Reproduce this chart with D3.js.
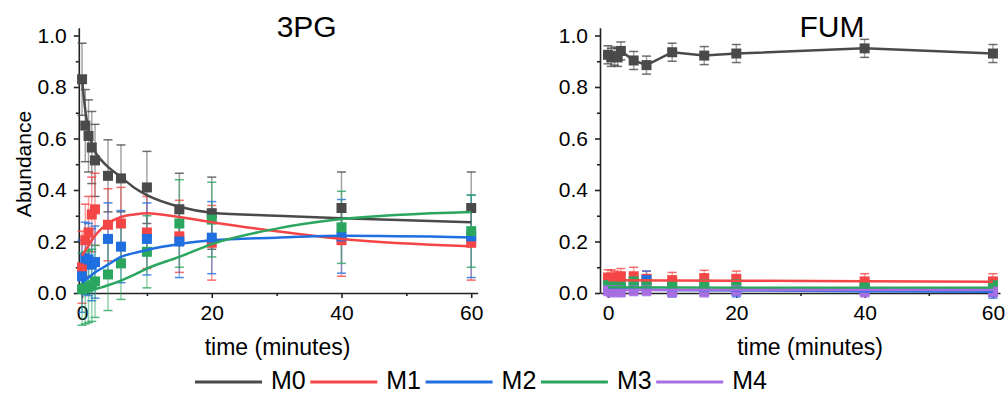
<!DOCTYPE html>
<html><head><meta charset="utf-8">
<script src="https://cdn.jsdelivr.net/npm/d3@7"></script>
<style>body{margin:0;background:#fff}svg{display:block}text{font-family:"Liberation Sans",Arial,sans-serif;fill:#000}</style>
</head><body>
<script>
// ---- data ----
const times = [0, 0.5, 1, 1.5, 2, 4, 6, 10, 15, 20, 40, 60];
const seriesNames = ["M0", "M1", "M2", "M3", "M4"];
const seriesColors = ["#4a4a4a", "#f44646", "#1f6fe0", "#2aa65e", "#a66ee0"];
const xTickValues = [0, 20, 40, 60];
const xMinorTicks = [10, 30, 50];
const yTickValues = [0, 0.2, 0.4, 0.6, 0.8, 1.0];
const yMinorTicks = [0.1, 0.3, 0.5, 0.7, 0.9];

// 3PG measured points
const pgM0 = [0.83, 0.65, 0.61, 0.565, 0.515, 0.455, 0.445, 0.41, 0.325, 0.31, 0.33, 0.33];
const pgM1 = [0.10, 0.205, 0.235, 0.305, 0.325, 0.265, 0.27, 0.235, 0.22, 0.195, 0.205, 0.195];
const pgM2 = [0.065, 0.135, 0.13, 0.11, 0.12, 0.21, 0.18, 0.21, 0.20, 0.215, 0.22, 0.22];
const pgM3 = [0.015, 0.02, 0.025, 0.03, 0.045, 0.072, 0.115, 0.16, 0.27, 0.285, 0.255, 0.24];
const pgM0err = [0.14, 0.14, 0.14, 0.14, 0.14, 0.14, 0.13, 0.14, 0.14, 0.14, 0.14, 0.14];
const pgM1err = [0.14, 0.14, 0.14, 0.145, 0.14, 0.14, 0.14, 0.14, 0.14, 0.145, 0.14, 0.145];
const pgM2err = [0.14, 0.14, 0.14, 0.14, 0.14, 0.14, 0.14, 0.14, 0.14, 0.14, 0.143, 0.16];
const pgM3err = [0.14, 0.14, 0.14, 0.14, 0.14, 0.14, 0.14, 0.14, 0.17, 0.145, 0.14, 0.14];
// 3PG fitted curves
const pgFitTimes = [0, 0.5, 1, 2, 3, 4, 6, 8, 10, 15, 20, 30, 40, 60];
const pgM0fit = [0.83, 0.71, 0.63, 0.55, 0.515, 0.49, 0.45, 0.41, 0.38, 0.335, 0.312, 0.30, 0.29, 0.275];
const pgM1fit = [0.145, 0.165, 0.185, 0.222, 0.25, 0.27, 0.295, 0.305, 0.31, 0.295, 0.275, 0.24, 0.21, 0.182];
const pgM2fit = [0.04, 0.05, 0.06, 0.08, 0.095, 0.11, 0.14, 0.155, 0.167, 0.19, 0.205, 0.215, 0.222, 0.216];
const pgM3fit = [0.0, 0.003, 0.007, 0.015, 0.022, 0.03, 0.048, 0.07, 0.095, 0.14, 0.19, 0.25, 0.287, 0.315];

// FUM measured points
const fumM0 = [0.925, 0.915, 0.92, 0.915, 0.94, 0.903, 0.885, 0.935, 0.922, 0.93, 0.95, 0.93];
const fumM1 = [0.06, 0.06, 0.055, 0.05, 0.065, 0.065, 0.055, 0.05, 0.058, 0.055, 0.045, 0.045];
const fumM2 = [0.02, 0.025, 0.02, 0.015, 0.02, 0.035, 0.05, 0.01, 0.015, 0.01, 0.015, 0.005];
const fumM3 = [0.03, 0.03, 0.025, 0.02, 0.025, 0.045, 0.035, 0.03, 0.035, 0.035, 0.03, 0.03];
const fumM4 = [0.01, 0.005, 0.01, 0.01, 0.005, 0.01, 0.01, 0.005, 0.005, 0.01, 0.005, 0.005];
const fumM0err = [0.035, 0.035, 0.035, 0.035, 0.035, 0.035, 0.035, 0.035, 0.035, 0.035, 0.035, 0.035];
const fumM1err = [0.03, 0.03, 0.03, 0.03, 0.03, 0.035, 0.03, 0.03, 0.03, 0.03, 0.03, 0.03];
const fumM2err = [0.025, 0.025, 0.025, 0.025, 0.025, 0.03, 0.035, 0.025, 0.025, 0.025, 0.025, 0.025];
const fumM3err = [0.02, 0.02, 0.02, 0.02, 0.02, 0.025, 0.025, 0.02, 0.02, 0.02, 0.02, 0.02];
const fumM4err = [0.02, 0.02, 0.02, 0.02, 0.02, 0.02, 0.02, 0.02, 0.02, 0.02, 0.02, 0.02];
// FUM fitted lines
const fumFitTimes = [0, 10, 20, 40, 60];
const fumM1fit = [0.05, 0.049, 0.048, 0.046, 0.044];
const fumM2fit = [0.015, 0.012, 0.01, 0.007, 0.005];
const fumM3fit = [0.022, 0.021, 0.02, 0.02, 0.02];
const fumM4fit = [0.012, 0.012, 0.012, 0.012, 0.012];

// ---- build ----
const zip = (a, b) => a.map((v, i) => [v, b[i]]);
const panels = [
  { title: "3PG", titleX: 306.7, xDomain: [-0.5, 61], xRange: [78.8, 477.7], xLabelX: 277.5, yLabel: true,
    series: [
      { k: 0, v: pgM0, e: pgM0err, line: zip(pgFitTimes, pgM0fit), curve: d3.curveMonotoneX },
      { k: 1, v: pgM1, e: pgM1err, line: zip(pgFitTimes, pgM1fit), curve: d3.curveMonotoneX },
      { k: 2, v: pgM2, e: pgM2err, line: zip(pgFitTimes, pgM2fit), curve: d3.curveMonotoneX },
      { k: 3, v: pgM3, e: pgM3err, line: zip(pgFitTimes, pgM3fit), curve: d3.curveMonotoneX }
    ] },
  { title: "FUM", titleX: 832, xDomain: [-1.25, 61.1], xRange: [600, 1000], xLabelX: 810, yLabel: false,
    series: [
      { k: 0, v: fumM0, e: fumM0err, line: zip(times, fumM0), curve: d3.curveLinear },
      { k: 1, v: fumM1, e: fumM1err, line: zip(fumFitTimes, fumM1fit), curve: d3.curveLinear },
      { k: 2, v: fumM2, e: fumM2err, line: zip(fumFitTimes, fumM2fit), curve: d3.curveLinear },
      { k: 3, v: fumM3, e: fumM3err, line: zip(fumFitTimes, fumM3fit), curve: d3.curveLinear },
      { k: 4, v: fumM4, e: fumM4err, line: zip(fumFitTimes, fumM4fit), curve: d3.curveLinear }
    ] }
];

const svg = d3.select("body").append("svg").attr("width", 1008).attr("height", 395);
const y = d3.scaleLinear().domain([0, 1.03]).range([293, 293 - 1.03 * 257.5]);

panels.forEach(p => {
  const x = d3.scaleLinear().domain(p.xDomain).range(p.xRange);
  const g = svg.append("g");
  const x0 = p.xRange[0];

  // axes
  const ax = g.append("g").attr("transform", `translate(0,${y(0)})`)
    .call(d3.axisBottom(x).tickValues(xTickValues).tickFormat(d3.format("d")).tickSize(5).tickPadding(7).tickSizeOuter(0));
  const axm = g.append("g").attr("transform", `translate(0,${y(0)})`)
    .call(d3.axisBottom(x).tickValues(xMinorTicks).tickFormat("").tickSize(3).tickSizeOuter(0));
  axm.select(".domain").remove();
  const ay = g.append("g").attr("transform", `translate(${x0},0)`)
    .call(d3.axisLeft(y).tickValues(yTickValues).tickFormat(d3.format(".1f")).tickSize(5).tickPadding(7).tickSizeOuter(0));
  const aym = g.append("g").attr("transform", `translate(${x0},0)`)
    .call(d3.axisLeft(y).tickValues(yMinorTicks).tickFormat("").tickSize(3).tickSizeOuter(0));
  aym.select(".domain").remove();
  [ax, axm, ay, aym].forEach(a => {
    a.selectAll("path,line").attr("stroke", "#222").attr("stroke-width", 1.6);
    a.selectAll("text").attr("font-size", 21).attr("fill", "#000").attr("font-family", "Liberation Sans, Arial, sans-serif");
  });

  // data
  p.series.forEach(s => {
    const c = seriesColors[s.k];
    const eg = g.append("g");
    s.v.forEach((v, i) => {
      const xx = x(times[i]);
      eg.append("line").attr("x1", xx).attr("x2", xx).attr("y1", y(v - s.e[i])).attr("y2", y(v + s.e[i]))
        .attr("stroke", c).attr("stroke-opacity", 0.5).attr("stroke-width", 1.5);
      [v - s.e[i], v + s.e[i]].forEach(yy => {
        eg.append("line").attr("x1", xx - 4.5).attr("x2", xx + 4.5).attr("y1", y(yy)).attr("y2", y(yy))
          .attr("stroke", c).attr("stroke-opacity", 0.8).attr("stroke-width", 1.5);
      });
    });
  });
  p.series.forEach(s => {
    const c = seriesColors[s.k];
    g.append("g").selectAll("rect").data(s.v).join("rect")
      .attr("x", (d, i) => x(times[i]) - 5).attr("y", d => y(d) - 5)
      .attr("width", 10).attr("height", 10).attr("fill", c);
  });
  p.series.forEach(s => {
    const c = seriesColors[s.k];
    g.append("path").datum(s.line)
      .attr("d", d3.line().x(d => x(d[0])).y(d => y(d[1])).curve(s.curve))
      .attr("fill", "none").attr("stroke", c).attr("stroke-width", 2.5);
  });

  // labels
  g.append("text").attr("x", p.titleX).attr("y", 36.7).attr("text-anchor", "middle").attr("font-size", 30).text(p.title);
  g.append("text").attr("x", p.xLabelX).attr("y", 355).attr("text-anchor", "middle").attr("font-size", 23).text("time (minutes)");
  if (p.yLabel) {
    g.append("text").attr("transform", "translate(31,164) rotate(-90)").attr("text-anchor", "middle")
      .attr("font-size", 21).text("Abundance");
  }
});

// legend
const lg = svg.append("g");
seriesNames.forEach((n, i) => {
  const lx = 195 + i * 115.3;
  lg.append("line").attr("x1", lx).attr("x2", lx + 67).attr("y1", 382).attr("y2", 382)
    .attr("stroke", seriesColors[i]).attr("stroke-width", 3);
  lg.append("text").attr("x", lx + 76).attr("y", 389).attr("font-size", 25).text(n);
});
</script>
</body></html>
